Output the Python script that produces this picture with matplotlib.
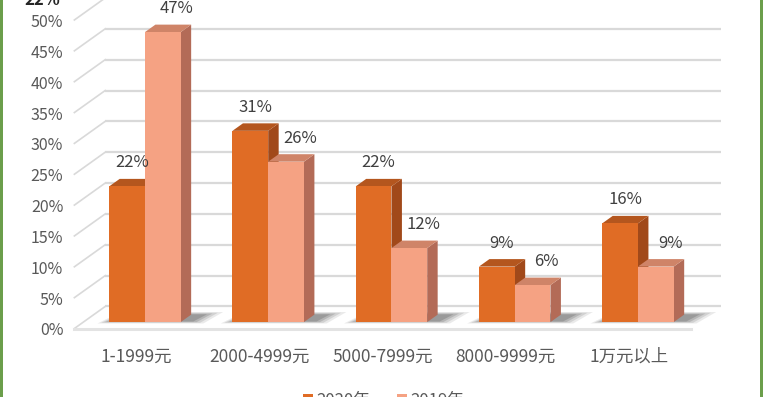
import matplotlib
matplotlib.use('Agg')
import matplotlib.pyplot as plt
from matplotlib.patches import Polygon, Rectangle, Patch

# ---- data ----
categories = ['1-1999元', '2000-4999元', '5000-7999元', '8000-9999元', '1万元以上']
series_names = ['2020年', '2019年']
values_2020 = [22, 31, 22, 9, 16]
values_2019 = [47, 26, 12, 6, 9]
y_ticks = [0, 5, 10, 15, 20, 25, 30, 35, 40, 45, 50]
y_tick_labels = ['0%', '5%', '10%', '15%', '20%', '25%', '30%', '35%', '40%', '45%', '50%']

# ---- style ----
plt.rcParams['font.family'] = ['Noto Sans CJK SC', 'DejaVu Sans']
front_cols = ['#E06C25', '#F5A283']
top_cols = ['#B4561E', '#CF8468']
side_cols = ['#A1491A', '#B36B57']
grid_col = '#D9D9D9'
text_col = '#595959'
label_dx = [0.04, 0.115]

fig = plt.figure(figsize=(7.63, 3.97), dpi=100)
ax = fig.add_axes([0, 0, 1, 1])
ax.set_xlim(-1.1034, 5.087)
ax.set_ylim(-11.10, 53.24)
ax.axis('off')

DX, DY = 0.25, 3.57           # oblique depth offset (full floor depth)
def P(u, v, z):
    return (u + z * DX, v + z * DY)

x_lo, x_hi = -0.5, len(categories) - 0.5

# back wall and side wall gridlines
for t in y_ticks:
    a, b = P(x_lo, t, 1), P(x_hi, t, 1)
    ax.plot([a[0], b[0]], [a[1], b[1]], color=grid_col, lw=1.6, zorder=1,
            solid_capstyle='butt')
    c, d = P(x_lo, t, 0), P(x_lo, t, 1)
    ax.plot([c[0], d[0]], [c[1], d[1]], color=grid_col, lw=1.2, zorder=1)
# floor front edge
a, b = P(x_lo, 0, 0), P(x_hi, 0, 0)
ax.plot([a[0], b[0]], [a[1], b[1]], color='#E3E3E3', lw=2.2, zorder=1)

# tick labels
for t, lab in zip(y_ticks, y_tick_labels):
    ax.text(x_lo - 0.09, t - 0.4, lab, ha='right', va='center', fontsize=11.5,
            color=text_col, zorder=5)

# category labels
for i, cat in enumerate(categories):
    ax.text(i, -4.5, cat, ha='center', va='center', fontsize=12.5,
            color=text_col, zorder=5)

bar_w = 0.29
z0, z1 = 0.29, 0.63

# soft shadows on the floor
for i in range(len(categories)):
    for k, a_ in enumerate([0.10, 0.14, 0.18, 0.22]):
        ex = 0.08 - 0.022 * k
        xl = i - bar_w - ex
        xr = i + bar_w + 0.2 - 0.035 * k
        za, zb = z0 - 0.06 + 0.03 * k, z1 + 0.12 - 0.035 * k
        poly = [P(xl, 0, za), P(xr, 0, za), P(xr + 0.03, 0, zb), P(xl + 0.06, 0, zb)]
        ax.add_patch(Polygon(poly, closed=True, facecolor='#3A3A3A', alpha=a_,
                             edgecolor='none', zorder=2))

# bars
all_vals = [values_2020, values_2019]
for i in range(len(categories)):
    for s, vals in enumerate(all_vals):
        v = vals[i]
        x0 = i - bar_w if s == 0 else i
        x1 = x0 + bar_w
        front = [P(x0, 0, z0), P(x1, 0, z0), P(x1, v, z0), P(x0, v, z0)]
        top = [P(x0, v, z0), P(x1, v, z0), P(x1, v, z1), P(x0, v, z1)]
        side = [P(x1, 0, z0), P(x1, 0, z1), P(x1, v, z1), P(x1, v, z0)]
        zo = 3 + s
        ax.add_patch(Polygon(side, closed=True, facecolor=side_cols[s], edgecolor='none', zorder=zo))
        ax.add_patch(Polygon(top, closed=True, facecolor=top_cols[s], edgecolor='none', zorder=zo))
        ax.add_patch(Polygon(front, closed=True, facecolor=front_cols[s], edgecolor='none', zorder=zo))
        cx = (x0 + x1) / 2 + z0 * DX + label_dx[s]
        ax.text(cx, v + z0 * DY + 3.8, f'{v}%', ha='center', va='center',
                fontsize=12, color='#404040', zorder=6)

# cropped text at top-left
ax.text(-0.76, 52.5, '22%', ha='center', va='baseline', fontsize=12,
        fontweight='bold', color='#262626', zorder=6)

# legend (cut at bottom)
handles = [Patch(facecolor=front_cols[0], edgecolor='none'),
           Patch(facecolor=front_cols[1], edgecolor='none')]
leg = ax.legend(handles, series_names, ncol=2, loc='center',
                bbox_to_anchor=(0.503, -0.008), frameon=False, fontsize=12,
                handlelength=0.6, handleheight=0.6, handletextpad=0.2,
                columnspacing=1.6, labelcolor=text_col)

# green frame edges
fig.patches.append(Rectangle((0, 0), 2.5 / 763, 1, transform=fig.transFigure,
                             facecolor='#6B9E4B', edgecolor='none'))
fig.patches.append(Rectangle((759.5 / 763, 0), 3 / 763, 1, transform=fig.transFigure,
                             facecolor='#6B9E4B', edgecolor='none'))

fig.savefig('out.png', dpi=100)
